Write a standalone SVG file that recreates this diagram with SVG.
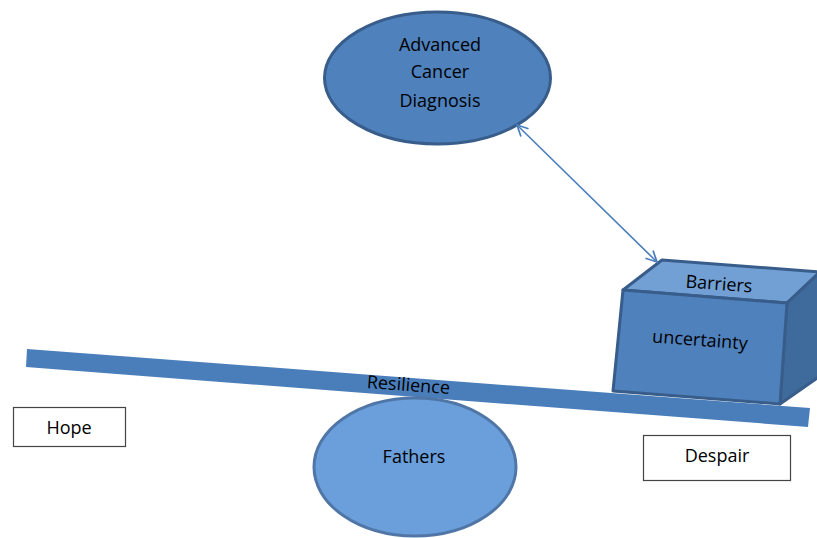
<svg xmlns="http://www.w3.org/2000/svg" width="817" height="538" viewBox="0 0 817 538">
  <defs>
    <style>
      .lbl { font-family: "Open Sans", "Liberation Sans", sans-serif; font-size: 18px; fill: #000; text-anchor: middle; }
      .box { fill: #fff; stroke: #444; stroke-width: 1.2; }
      .link { stroke: #4a7ebb; stroke-width: 1.6; fill: none; }
    </style>
    <marker id="openHead" viewBox="0 0 12 12" refX="11" refY="6" markerWidth="13" markerHeight="13" markerUnits="userSpaceOnUse" orient="auto-start-reverse">
      <path d="M1,1 L11,6 L1,11" fill="none" stroke="#4a7ebb" stroke-width="1.6"/>
    </marker>
  </defs>
  <rect width="817" height="538" fill="#fff"/>

  <!-- balance beam -->
  <g id="beam">
    <polygon points="27,349 810,408 808,427 26,367" fill="#4a7ebb"/>
    <text class="lbl" transform="translate(408,391) rotate(4.3)">Resilience</text>
  </g>

  <!-- fulcrum -->
  <g id="fathers">
    <ellipse cx="415" cy="467" rx="101" ry="69" fill="#6a9fdc" stroke="#4f76a6" stroke-width="3"/>
    <text class="lbl" x="414" y="463">Fathers</text>
  </g>

  <!-- top node -->
  <g id="diagnosis">
    <ellipse cx="437.5" cy="78" rx="113" ry="66" fill="#4f81bd" stroke="#385d8a" stroke-width="3"/>
    <text class="lbl" x="440" y="51">Advanced</text>
    <text class="lbl" x="440" y="78">Cancer</text>
    <text class="lbl" x="440" y="107">Diagnosis</text>
  </g>

  <!-- weight block on the beam -->
  <g id="barriers">
    <polygon points="623,290 662,260 820,272 787,303" fill="#729fd4" stroke="#385d8a" stroke-width="3" stroke-linejoin="round"/>
    <polygon points="787,303 820,272 820,376 780,404" fill="#3f6a9c" stroke="#385d8a" stroke-width="3" stroke-linejoin="round"/>
    <polygon points="623,290 787,303 780,404 613,391" fill="#4f81bd" stroke="#385d8a" stroke-width="3" stroke-linejoin="round"/>
    <text class="lbl" x="719" y="290" transform="rotate(4.3 719 284)">Barriers</text>
    <text class="lbl" x="700" y="346" transform="rotate(4.3 700 340)">uncertainty</text>
  </g>

  <g id="hope">
    <rect class="box" x="13.5" y="407.5" width="112" height="39"/>
    <text class="lbl" x="69" y="434">Hope</text>
  </g>

  <g id="despair">
    <rect class="box" x="643.5" y="435.5" width="147" height="45"/>
    <text class="lbl" x="717" y="462">Despair</text>
  </g>

  <g id="connectors">
    <line class="link" x1="517" y1="125" x2="657" y2="262" marker-start="url(#openHead)" marker-end="url(#openHead)"/>
  </g>
</svg>
